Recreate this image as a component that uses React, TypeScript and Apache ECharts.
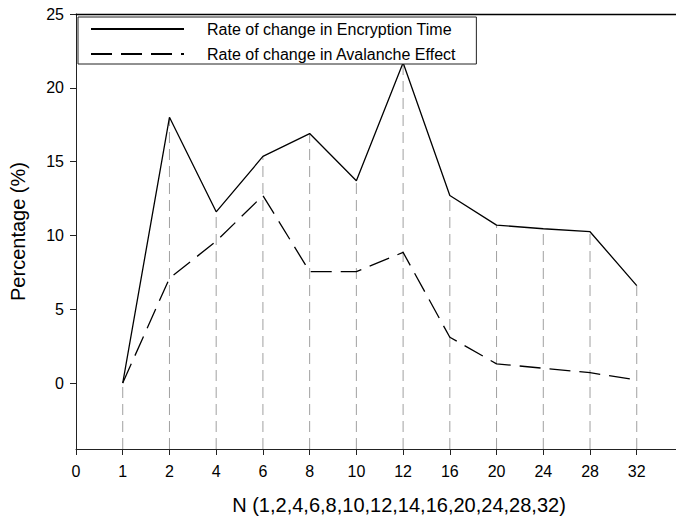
import React, { useEffect, useRef } from "react";
import * as echarts from "echarts";

// Axis labels (positions along x are evenly spaced, index = position)
const X_LABELS = ["0", "1", "2", "4", "6", "8", "10", "12", "16", "20", "24", "28", "32"];
const Y_TICKS = [0, 5, 10, 15, 20, 25];
// Measured N values
const N_VALUES = ["1", "2", "4", "6", "8", "10", "12", "16", "20", "24", "28", "32"];
// Rate of change in Encryption Time (%)
const ENCRYPTION = [0, 18.0, 11.6, 15.35, 16.9, 13.7, 21.7, 12.7, 10.7, 10.45, 10.25, 6.6];
// Rate of change in Avalanche Effect (%)
const AVALANCHE = [0, 7.1, 9.6, 12.7, 7.55, 7.55, 8.85, 3.1, 1.3, 1.0, 0.7, 0.2];

const Y_MIN = -4.47;
const Y_MAX = 25;
const X_MAX = 12.84;

const FONT = "'Liberation Sans', Arial, Helvetica, sans-serif";

export default function App() {
  const ref = useRef<HTMLDivElement>(null);

  useEffect(() => {
    document.body.style.margin = "0";
    if (!ref.current) return;
    const chart = echarts.init(ref.current, undefined, { renderer: "svg" });

    const xIdx = N_VALUES.map((n) => X_LABELS.indexOf(n));
    const encData = xIdx.map((x, i) => [x, ENCRYPTION[i]]);
    const avaData = xIdx.map((x, i) => [x, AVALANCHE[i]]);
    const dropData = xIdx.map((x, i) => [x, Math.max(ENCRYPTION[i], AVALANCHE[i])]);

    chart.setOption({
      animation: false,
      backgroundColor: "#ffffff",
      textStyle: { fontFamily: FONT, color: "#000" },
      grid: { left: 73, right: 0, top: 14, bottom: 70.7, containLabel: false },
      legend: {
        data: ["Rate of change in Encryption Time", "Rate of change in Avalanche Effect"],
        orient: "vertical",
        left: 78,
        top: 17,
        itemWidth: 93,
        itemHeight: 14,
        itemGap: 9,
        padding: [4, 20, 2, 12],
        borderColor: "#222",
        borderWidth: 1,
        borderRadius: 0,
        backgroundColor: "#fff",
        itemStyle: { opacity: 0, color: "transparent", borderWidth: 0 },
        textStyle: {
          fontFamily: FONT,
          fontSize: 16,
          color: "#000",
          lineHeight: 14,
          padding: [0, 0, 0, 18],
        },
      },
      xAxis: [
        {
          type: "value",
          min: 0,
          max: X_MAX,
          position: "bottom",
          axisLine: { show: true, onZero: false, lineStyle: { color: "#222", width: 1 } },
          axisTick: {
            show: true,
            inside: false,
            length: 6,
            customValues: X_LABELS.map((_, i) => i),
            lineStyle: { color: "#222" },
          },
          axisLabel: {
            show: true,
            margin: 14,
            fontSize: 16,
            fontFamily: FONT,
            color: "#000",
            customValues: X_LABELS.map((_, i) => i),
            formatter: (v: number) => X_LABELS[Math.round(v)] ?? "",
          },
          splitLine: { show: false },
          name: "N (1,2,4,6,8,10,12,14,16,20,24,28,32)",
          nameLocation: "middle",
          nameGap: 46,
          nameTextStyle: { fontSize: 20, fontFamily: FONT, color: "#000", padding: [0, 0, 0, 46] },
        },
        {
          type: "value",
          min: 0,
          max: X_MAX,
          position: "top",
          axisLine: { show: true, onZero: false, lineStyle: { color: "#000", width: 1.4 } },
          axisTick: { show: false },
          axisLabel: { show: false },
          splitLine: { show: false },
        },
      ],
      yAxis: {
        type: "value",
        min: Y_MIN,
        max: Y_MAX,
        axisLine: { show: true, onZero: false, lineStyle: { color: "#222", width: 1 } },
        axisTick: {
          show: true,
          inside: false,
          length: 6,
          customValues: Y_TICKS,
          lineStyle: { color: "#222" },
        },
        axisLabel: {
          show: true,
          margin: 12,
          fontSize: 16,
          fontFamily: FONT,
          color: "#000",
          customValues: Y_TICKS,
        },
        splitLine: { show: false },
        name: "Percentage (%)",
        nameLocation: "middle",
        nameGap: 48,
        nameTextStyle: { fontSize: 20, fontFamily: FONT, color: "#000" },
      },
      series: [
        {
          type: "custom",
          name: "drop",
          xAxisIndex: 0,
          z: 1,
          silent: true,
          encode: { x: 0, y: 1 },
          data: dropData,
          renderItem: (_params: any, api: any) => {
            const x = api.value(0);
            const v = api.value(1);
            const top = api.coord([x, v]);
            const bot = api.coord([x, Y_MIN]);
            return {
              type: "line",
              shape: { x1: top[0], y1: bot[1], x2: top[0], y2: top[1] },
              style: { stroke: "#a0a0a0", lineWidth: 1, lineDash: [11, 6] },
            };
          },
        },
        {
          type: "line",
          name: "Rate of change in Encryption Time",
          xAxisIndex: 0,
          z: 3,
          data: encData,
          symbol: "none",
          showSymbol: false,
          lineStyle: { color: "#000", width: 1.3, type: "solid" },
          itemStyle: { color: "#000" },
        },
        {
          type: "line",
          name: "Rate of change in Avalanche Effect",
          xAxisIndex: 0,
          z: 3,
          data: avaData,
          symbol: "none",
          showSymbol: false,
          lineStyle: { color: "#000", width: 1.3, type: [21, 9] },
          itemStyle: { color: "#000" },
        },
      ],
    });

    return () => chart.dispose();
  }, []);

  return (
    <div
      ref={ref}
      style={{ width: 676, height: 520, position: "absolute", left: 0, top: 0 }}
    />
  );
}
